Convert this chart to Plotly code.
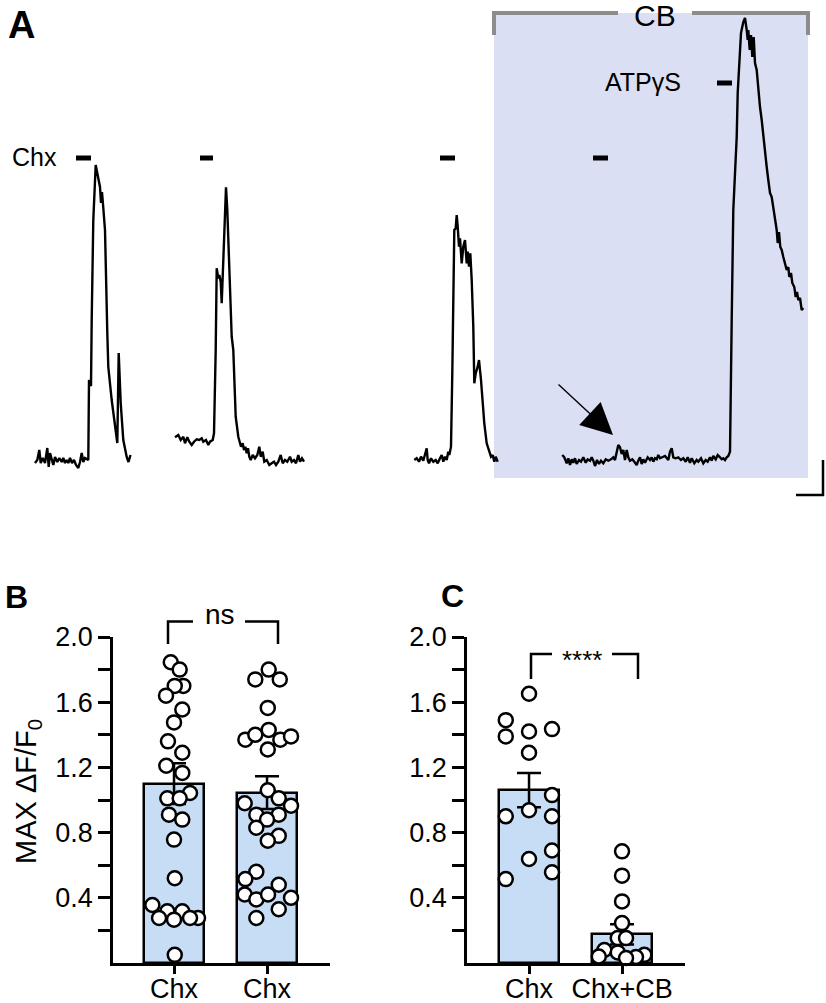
import plotly.graph_objects as go

W, H = 826, 1003
FONT = "Liberation Sans, Arial, sans-serif"

# ---------------- Panel A: calcium traces (time a.u., fluorescence a.u.) ----------------
t1 = [35.0, 37.3, 39.3, 40.7, 42.7, 45.0, 47.3, 48.7, 50.0, 51.7, 53.3, 55.0, 57.3, 59.3, 61.7, 63.3,
      65.0, 66.7, 68.3, 70.0, 72.0, 74.0, 76.0, 78.3, 80.0, 81.7, 83.3, 85.0, 87.3, 88.3, 89.0, 91.0,
      91.7, 93.3, 95.7, 97.7, 100.0, 101.0, 102.0, 103.3, 105.0, 107.3, 108.3, 111.7, 115.0, 117.3,
      118.7, 120.7, 123.3, 126.7, 128.5, 130.5]
f1 = [7, 10, 20, 7, 12, 7, 22, 3, 17, 12, 5, 13, 8, 12, 8, 12, 7, 10, 7, 12, 7, 10, 5, 2, 8, 17, 8, 12,
      10, 10, 90, 84, 150, 250, 305, 295, 283, 267, 278, 262, 240, 137, 103, 70, 45, 27, 117, 67, 30,
      13, 8, 15]

t2 = [175.0, 178.3, 180.7, 183.3, 185.0, 187.3, 189.3, 191.7, 194.0, 196.7, 199.3, 201.7, 203.3, 206.0,
      208.3, 210.0, 212.7, 214.0, 215.7, 216.7, 218.3, 219.3, 220.7, 221.7, 222.7, 224.0, 226.0, 227.3,
      229.3, 231.7, 233.3, 235.7, 238.3, 240.0, 241.0, 242.7, 244.0, 245.3, 246.7, 248.0, 249.3, 250.7,
      252.7, 255.0, 257.3, 259.3, 260.7, 262.7, 264.3, 266.7, 269.3, 271.7, 274.0, 276.0, 278.3, 280.7,
      282.7, 285.0, 287.3, 290.0, 291.7, 294.0, 296.0, 298.3, 300.0, 302.0, 304.0]
f2 = [32.7, 35, 30, 33.3, 26.7, 32.7, 28.3, 25, 28.3, 30.7, 30, 31.7, 28.3, 30, 25, 28.3, 30, 36.7, 120,
      201.7, 191.7, 195, 188.3, 166.7, 193.3, 226.7, 282.7, 260, 203.3, 133.3, 120, 53.3, 33.3, 26.7,
      23.3, 26.7, 20, 23.3, 16.7, 21.7, 13.3, 10, 15, 11.7, 15, 23.3, 13.3, 18.3, 8.3, 10, 5, 6.7, 8.3,
      5, 8.3, 15, 6.7, 10, 8.3, 13.3, 8.3, 10, 6.7, 15, 8.3, 11.7, 8.3]

t3 = [414.3, 416.7, 419.0, 421.0, 423.3, 425.0, 426.7, 427.7, 429.0, 431.0, 433.3, 435.7, 437.7, 440.0,
      441.7, 443.3, 445.0, 446.7, 448.3, 449.3, 451.0, 452.3, 453.7, 454.3, 455.7, 456.7, 457.7, 459.0,
      460.0, 461.7, 463.3, 465.0, 466.7, 467.7, 469.0, 470.3, 471.7, 473.3, 474.3, 475.7, 477.7, 479.0,
      481.0, 482.3, 484.3, 486.7, 489.0, 491.0, 492.7, 494.3, 495.7, 497.7]
f3 = [10, 11.7, 8.3, 13.3, 9.3, 15, 21.7, 10, 6.7, 11.7, 8.3, 10, 6.7, 11.7, 15, 8.3, 13.3, 10, 18.3, 15,
      23.3, 96.7, 190, 240, 241.7, 255, 243.3, 223.3, 231.7, 206.7, 223.3, 230, 206.7, 218.3, 203.3,
      216.7, 190, 143.3, 86.7, 96.7, 103.3, 110, 90, 70, 46.7, 26.7, 18.3, 13.3, 15, 8.3, 13.3, 8.3]

t4 = [562.3, 564.3, 566.7, 568.3, 570.0, 571.7, 573.3, 575.0, 576.7, 579.0, 581.0, 583.3, 585.7, 587.7,
      590.0, 591.7, 593.3, 595.0, 597.0, 599.0, 601.0, 603.3, 605.7, 608.3, 611.0, 613.3, 615.0, 616.7,
      618.3, 620.0, 621.7, 623.3, 625.0, 626.7, 628.3, 630.0, 632.3, 634.3, 636.7, 638.3, 640.0, 641.7,
      643.3, 645.0, 647.7, 650.0, 651.7, 653.3, 655.0, 656.7, 658.3, 660.0, 661.7, 665.0, 668.3, 670.0,
      671.7, 673.3, 675.7, 678.3, 681.0, 683.3, 685.7, 687.7, 690.0, 691.7, 694.3, 696.7, 698.3, 701.0,
      703.3, 705.7, 707.7, 710.0, 711.7, 713.3, 715.7, 717.7, 720.0, 721.7, 723.3, 725.0, 726.7, 728.3,
      730.0, 731.0, 731.7, 733.3, 735.7, 736.7, 737.7, 739.0, 741.0, 743.3, 745.0, 746.7, 747.7, 748.3,
      749.7, 751.0, 752.3, 753.7, 755.0, 756.7, 758.3, 760.0, 761.7, 763.3, 765.0, 766.7, 768.3, 770.0,
      771.7, 773.3, 775.0, 776.7, 777.7, 779.0, 780.3, 781.7, 783.3, 785.0, 786.7, 788.3, 789.3, 791.0,
      792.3, 794.3, 795.7, 797.0, 798.3, 800.0, 801.7, 803.3]
f4 = [15, 12.7, 6.7, 11.7, 5, 10.7, 7.3, 11.7, 6, 10, 8.3, 12.7, 7.3, 10.7, 9.3, 12.7, 9.3, 4, 10, 6,
      9.3, 6.7, 10.7, 9.3, 10.7, 12.7, 10, 16.7, 25, 22.7, 16, 20, 10, 20, 12.7, 9.3, 10.7, 8.3, 5, 9.3,
      12.7, 6, 10.7, 7.3, 12.7, 10, 12.7, 8.3, 11.7, 10.7, 15, 11.7, 12.7, 14, 10, 18.3, 21.7, 12.7,
      11.7, 12.7, 10, 11.7, 8.3, 12.7, 7.3, 11.7, 6.7, 10, 8.3, 11.7, 6.7, 10, 8.3, 12.7, 9.3, 14, 10.7,
      15, 12.7, 10.7, 11.7, 10, 12.7, 14, 18.3,
      137, 150, 260, 320, 333, 377, 403, 437, 448, 452, 440, 430, 440, 420, 435, 413, 433, 407, 400,
      380, 363, 350, 333, 320, 303, 290, 277, 273, 263, 250, 240, 227, 238, 223, 220, 213, 207, 200,
      203, 193, 197, 187, 183, 173, 178, 170, 172, 160, 162]

# ---------------- Panel B ----------------
b_labels = ["Chx", "Chx"]
b_means = [1.10, 1.045]
b_sem = [0.125, 0.10]
b1_vals = [1.845, 1.80, 1.70, 1.70, 1.64, 1.555, 1.476, 1.36, 1.29, 1.21, 1.166, 1.043, 1.01, 1.01,
           0.91, 0.88, 0.757, 0.52, 0.356, 0.317, 0.317, 0.276, 0.266, 0.276, 0.276, 0.05]
b1_jit = [-0.035, 0.061, 0.10, 0.008, -0.086, 0.089, 0.0, -0.065, 0.089, -0.083, 0.089, 0.172, -0.072,
          0.061, -0.054, 0.089, 0.0, 0.008, -0.233, -0.072, 0.089, -0.161, 0.0, 0.258, 0.172, 0.008]
b2_vals = [1.74, 1.80, 1.74, 1.565, 1.37, 1.40, 1.43, 1.37, 1.39, 1.31, 1.06, 0.98, 1.01, 0.965, 0.91,
           0.91, 0.88, 0.83, 0.78, 0.75, 0.56, 0.515, 0.48, 0.42, 0.39, 0.42, 0.40, 0.33, 0.276]
b2_jit = [-0.126, 0.018, 0.137, 0.008, -0.233, -0.126, 0.018, 0.143, 0.258, 0.008, 0.008, -0.24, 0.126,
          0.258, -0.115, 0.126, 0.0, -0.115, 0.126, 0.008, -0.115, -0.233, 0.126, -0.24, -0.115, 0.011,
          0.258, 0.126, -0.115]

# ---------------- Panel C ----------------
c_labels = ["Chx", "Chx+CB"]
c_means = [1.06, 0.175]
c_sem = [0.105, 0.062]
c1_vals = [1.652, 1.49, 1.39, 1.42, 1.435, 1.29, 1.03, 0.90, 0.937, 0.90, 0.69, 0.638, 0.556, 0.515]
c1_jit = [0.0, -0.25, -0.25, 0.0, 0.247, 0.0, 0.247, -0.25, 0.0, 0.247, 0.247, 0.0, 0.247, -0.25]
c2_vals = [0.685, 0.536, 0.378, 0.245, 0.153, 0.153, 0.08, 0.065, 0.05, 0.04, 0.037, 0.03]
c2_jit = [0.0, 0.0, 0.0, 0.0, -0.046, 0.043, -0.19, -0.046, 0.24, -0.25, 0.15, 0.043]

y_ticks = [0.2, 0.4, 0.6, 0.8, 1.0, 1.2, 1.4, 1.6, 1.8, 2.0]
y_ticktext = ["", "0.4", "", "0.8", "", "1.2", "", "1.6", "", "2.0"]

BAR_COLOR = "rgb(199,221,245)"
SHADE = "rgb(218,223,243)"


def px(x, y):
    """pixel position -> paper coordinates (margins are zero)"""
    return x / W, 1 - y / H


fig = go.Figure()

# Panel A traces
for t, f in [(t1, f1), (t2, f2), (t3, f3), (t4, f4)]:
    fig.add_trace(go.Scatter(x=t, y=f, mode="lines", line=dict(color="black", width=2.4),
                             xaxis="x", yaxis="y", showlegend=False, hoverinfo="skip"))


def add_bar_panel(xa, ya, means, sems, groups):
    fig.add_trace(go.Bar(x=list(range(len(means))), y=means, width=0.645,
                         marker=dict(color=BAR_COLOR, line=dict(color="black", width=2.5)),
                         error_y=dict(type="data", array=sems, visible=True, color="black",
                                      thickness=2.5, width=12),
                         xaxis=xa, yaxis=ya, showlegend=False))
    for gi, (vals, jit) in enumerate(groups):
        fig.add_trace(go.Scatter(x=[gi + j for j in jit], y=vals, mode="markers",
                                 marker=dict(size=14, color="white", line=dict(color="black", width=2.5)),
                                 xaxis=xa, yaxis=ya, showlegend=False, cliponaxis=False))


add_bar_panel("x2", "y2", b_means, b_sem, [(b1_vals, b1_jit), (b2_vals, b2_jit)])
add_bar_panel("x3", "y3", c_means, c_sem, [(c1_vals, c1_jit), (c2_vals, c2_jit)])

ydom = [40 / H, 366 / H]
yax = dict(range=[0, 2.0], domain=ydom, showline=True, linecolor="black", linewidth=2.5,
           ticks="outside", ticklen=12, tickwidth=2.5, tickcolor="black", automargin=False,
           tickvals=y_ticks, ticktext=y_ticktext, showgrid=False, zeroline=False,
           tickfont=dict(family=FONT, size=27, color="black"))


def xax(dom, rng, labels, anchor):
    return dict(domain=dom, range=rng, showline=True, linecolor="black", linewidth=2.5,
                ticks="outside", ticklen=8, tickwidth=2.5, tickcolor="black", automargin=False,
                tickvals=[0, 1], ticktext=labels, showgrid=False, zeroline=False, anchor=anchor,
                ticklabelstandoff=-8,
                tickfont=dict(family=FONT, size=27, color="black"))


fig.update_layout(
    template="none",
    width=W, height=H, margin=dict(l=0, r=0, t=0, b=0, pad=0), autosize=False,
    paper_bgcolor="white", plot_bgcolor="rgba(0,0,0,0)", bargap=0,
    font=dict(family=FONT, color="black"),
    xaxis=dict(domain=[0, 1], range=[0, W], visible=False, automargin=False),
    yaxis=dict(domain=[1 - 500 / H, 1], range=[-30, 470], visible=False, automargin=False),
    xaxis2=xax([113 / W, 330 / W], [-0.656, 1.677], b_labels, "y2"),
    yaxis2=dict(yax, anchor="x2"),
    xaxis3=xax([467 / W, 685 / W], [-0.667, 1.677], c_labels, "y3"),
    yaxis3=dict(yax, anchor="x3"),
)

shapes = []
# CB shading and bracket (panel A data coords)
shapes.append(dict(type="rect", xref="x", yref="y", x0=494, x1=808, y0=-8, y1=457,
                   fillcolor=SHADE, line=dict(width=0), layer="below"))
gray = "rgb(140,140,140)"
shapes.append(dict(type="path", xref="x", yref="y", path="M494,435 L494,457 L618,457",
                   line=dict(color=gray, width=4)))
shapes.append(dict(type="path", xref="x", yref="y", path="M692,457 L808,457 L808,435",
                   line=dict(color=gray, width=4)))
# application bars
for x0, x1, yv in [(76, 91, 312), (200, 213, 312), (440, 455, 312), (593, 608, 312), (717, 732, 387)]:
    shapes.append(dict(type="line", xref="x", yref="y", x0=x0, x1=x1, y0=yv, y1=yv,
                       line=dict(color="black", width=5)))
# scale bar
shapes.append(dict(type="path", xref="x", yref="y", path="M796,-25 L823,-25 L823,10",
                   line=dict(color="black", width=2.5)))


def bracket(xl, xr, ytop, ybot, gl, gr):
    a = px(xl, ybot); b = px(xl, ytop); c = px(gl, ytop)
    d = px(gr, ytop); e = px(xr, ytop); f = px(xr, ybot)
    s = dict(type="path", xref="paper", yref="paper", line=dict(color="black", width=2.5))
    shapes.append(dict(s, path=f"M{a[0]},{a[1]} L{b[0]},{b[1]} L{c[0]},{c[1]}"))
    shapes.append(dict(s, path=f"M{d[0]},{d[1]} L{e[0]},{e[1]} L{f[0]},{f[1]}"))


bracket(168, 278, 621.5, 644, 193, 245)
bracket(531, 638, 654, 679, 552, 612)
fig.update_layout(shapes=shapes)

ann = []


def text(x, y, s, size, bold=False, angle=0):
    p = px(x, y)
    ann.append(dict(x=p[0], y=p[1], xref="paper", yref="paper", text=f"<b>{s}</b>" if bold else s,
                    showarrow=False, xanchor="center", yanchor="middle", textangle=angle,
                    font=dict(family=FONT, size=size, color="black")))


text(21, 25, "A", 38, bold=True)
text(16, 597, "B", 32, bold=True)
text(452, 596, "C", 32, bold=True)
text(34, 157, "Chx", 25)
text(643, 82, "ATPγS", 25)
text(655, 16, "CB", 30)
text(220, 614, "ns", 28)
text(582, 660, "****", 26)
text(28, 792, "MAX ΔF/F<sub>0</sub>", 29, angle=-90)
# arrow
ann.append(dict(x=613, y=35, ax=557, ay=87, xref="x", yref="y", axref="x", ayref="y", text="",
                showarrow=True, arrowhead=2, arrowsize=4.5, arrowwidth=1.4, arrowcolor="black"))
fig.update_layout(annotations=ann)

fig.write_html("out.html", config={"displayModeBar": False},
               post_script="document.body.style.margin='0';document.body.style.overflow='hidden';")
